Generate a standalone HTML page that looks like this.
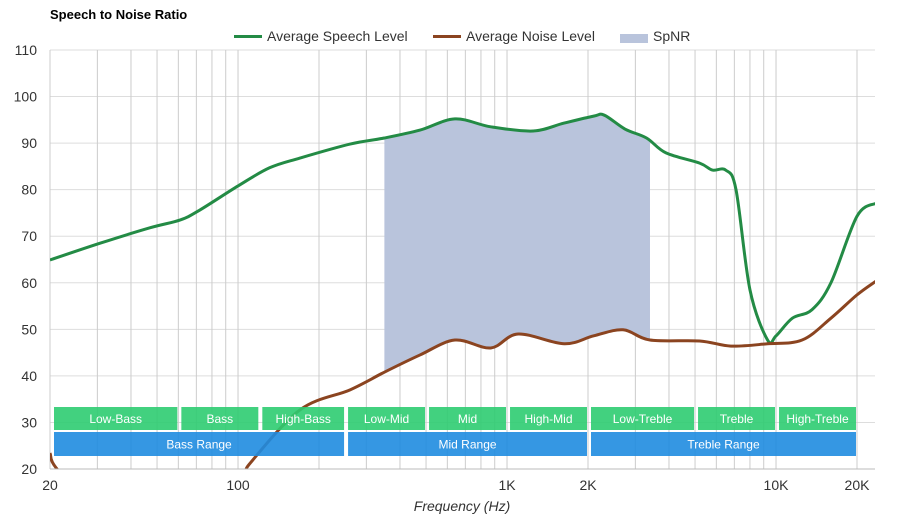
<!DOCTYPE html>
<html><head><meta charset="utf-8"><style>
body{margin:0;background:#fff;font-family:"Liberation Sans",sans-serif}
svg text{font-family:"Liberation Sans",sans-serif}
</style></head><body>
<svg id="c" width="900" height="520">
<text x="50" y="19" font-size="13" font-weight="bold" fill="#000">Speech to Noise Ratio</text>
<g>
<g><rect x="234" y="35" width="28" height="3" fill="#238b45"/><text x="267" y="41" font-size="14" fill="#333">Average Speech Level</text></g>
<g><rect x="433" y="35" width="28" height="3" fill="#8b4420"/><text x="466" y="41" font-size="14" fill="#333">Average Noise Level</text></g>
<g><rect x="620" y="34" width="28" height="9" fill="#b9c4dc"/><text x="653" y="41" font-size="14" fill="#333">SpNR</text></g>
</g>
<g id="grid"></g><g id="plot"></g><g id="bands"></g><g id="axes"></g>
<text x="462" y="511" font-size="14" font-style="italic" fill="#333" text-anchor="middle">Frequency (Hz)</text>
</svg>
<script>
const speechF=[20,30.7,47,61,72,100,131,170,261,350,475,640,870,1250,1630,2100,2300,2750,3300,3900,5200,5800,6500,7100,8000,9300,10000,11500,13600,16000,20000,23600];
const speechV=[64.9,68.5,71.8,73.5,75.6,80.8,84.7,86.8,89.8,91.1,92.8,95.2,93.5,92.6,94.3,95.8,96.0,93,91.1,87.9,85.7,84.2,84.2,80,58.5,47.7,48.6,52.4,54.2,60,74.3,77.1];
const noiseF=[20,22,40,100,110,170,261,350,475,640,870,1100,1630,2100,2700,3400,5200,6800,9300,12500,16000,20000,23600];
const noiseV=[23.4,19,5,17,21,32.7,37,40.8,44.5,47.7,46,49,46.9,48.6,49.9,47.7,47.5,46.4,46.9,47.7,52.4,57.4,60.4];
const spnrRange=[350,3400];
const yTicks=[20,30,40,50,60,70,80,90,100,110];
const xTickLabels=[[20,"20"],[100,"100"],[1000,"1K"],[2000,"2K"],[10000,"10K"],[20000,"20K"]];
const bandNames=["Low-Bass","Bass","High-Bass","Low-Mid","Mid","High-Mid","Low-Treble","Treble","High-Treble"];
const bandEdges=[20,60,120,250,500,1000,2000,5000,10000,20000];
const rangeNames=["Bass Range","Mid Range","Treble Range"];
const rangeEdges=[20,250,2000,20000];

const L=50,R=875,T=50,B=469;
const X=f=>L+269*Math.log10(f/20);
const Y=v=>T+(110-v)*(B-T)/90;
const NS="http://www.w3.org/2000/svg";
function mk(t,a,p){const e=document.createElementNS(NS,t);for(const k in a)e.setAttribute(k,a[k]);p.appendChild(e);return e;}
const grid=document.getElementById('grid'),plot=document.getElementById('plot'),bands=document.getElementById('bands'),axes=document.getElementById('axes');
yTicks.forEach(v=>{const l=mk('line',{x1:L,x2:R,y1:Y(v),y2:Y(v),stroke:'#ddd'},grid);


const t=mk('text',{x:37,y:Y(v)+5,'font-size':14,fill:'#333','text-anchor':'end'},axes);t.textContent=v;

});
for(let d=10;d<=10000;d*=10)for(let m=1;m<=9;m++){const f=d*m;if(f<20||X(f)>R)continue;
const l=mk('line',{x1:X(f),x2:X(f),y1:T,y2:B,stroke:'#ccc'},grid);

}
xTickLabels.forEach(([f,s])=>{const t=mk('text',{x:X(f),y:490,'font-size':14,fill:'#333','text-anchor':'middle'},axes);t.textContent=s;

});
const ax=mk('line',{x1:L,x2:R,y1:B,y2:B,stroke:'#bbb'},axes);


const cp=mk('clipPath',{id:'clip'},plot);mk('rect',{x:L,y:T,width:R-L,height:B-T},cp);
function pts(F,V){return F.map((f,i)=>[X(f),Y(V[i])]);}
function path(p){let d=`M${p[0][0]},${p[0][1]}`;for(let i=0;i<p.length-1;i++){const p0=p[i-1]||p[i],p1=p[i],p2=p[i+1],p3=p[i+2]||p2;
d+=`C${p1[0]+(p2[0]-p0[0])/6},${p1[1]+(p2[1]-p0[1])/6} ${p2[0]-(p3[0]-p1[0])/6},${p2[1]-(p3[1]-p1[1])/6} ${p2[0]},${p2[1]}`;}return d;}
function interp(F,V,f){for(let i=0;i<F.length-1;i++)if(f>=F[i]&&f<=F[i+1]){const t=(Math.log(f)-Math.log(F[i]))/(Math.log(F[i+1])-Math.log(F[i]));return V[i]+t*(V[i+1]-V[i]);}return V[V.length-1];}
const topPts=[],botPts=[];
for(let i=0;i<=80;i++){const f=spnrRange[0]*Math.pow(spnrRange[1]/spnrRange[0],i/80);topPts.push([X(f),Y(interp(speechF,speechV,f))]);botPts.push([X(f),Y(interp(noiseF,noiseV,f))]);}
const area=mk('path',{d:'M'+topPts.map(p=>p.join(',')).join('L')+'L'+botPts.reverse().map(p=>p.join(',')).join('L')+'Z',fill:'#b9c4dc'},plot);


const sp=mk('path',{d:path(pts(speechF,speechV)),fill:'none',stroke:'#238b45','stroke-width':3,'clip-path':'url(#clip)'},plot);


const np=mk('path',{d:path(pts(noiseF,noiseV)),fill:'none',stroke:'#8b4420','stroke-width':3,'clip-path':'url(#clip)'},plot);


function band(a,b,y,h,col,name){const x1=X(a)+(a>20?3:4),x2=X(b)-1;
const r=mk('rect',{x:x1,y:y,width:x2-x1,height:h,fill:col,opacity:0.9},bands);


const t=mk('text',{x:(x1+x2)/2,y:y+h/2+4.5,'font-size':12,fill:'#fff','text-anchor':'middle'},bands);t.textContent=name;

}
bandNames.forEach((n,i)=>band(bandEdges[i],bandEdges[i+1],407,23,'#2ecc71',n));
rangeNames.forEach((n,i)=>band(rangeEdges[i],rangeEdges[i+1],432,24,'#1f8ce0',n));
</script>
</body></html>
